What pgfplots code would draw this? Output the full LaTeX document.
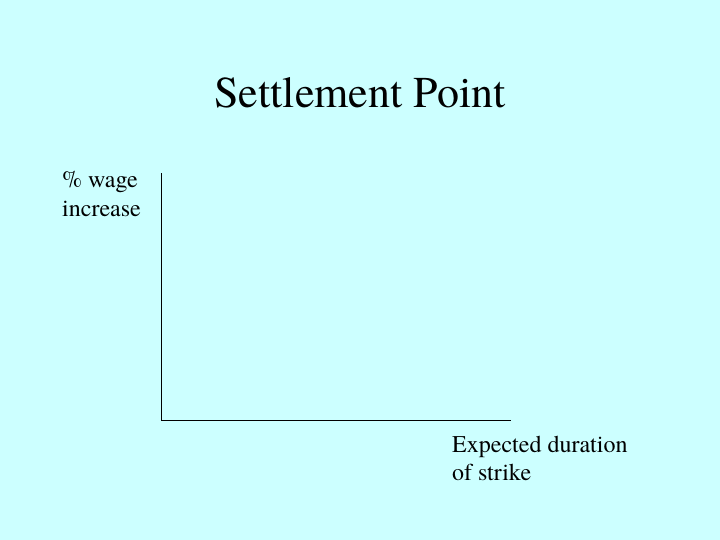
\documentclass[border=0pt]{standalone}
\usepackage{pgfplots}
\pgfplotsset{compat=1.18}
\usepackage{fontspec}
\setmainfont{TeX Gyre Termes}
\definecolor{slidebg}{RGB}{204,255,255}

\begin{document}
\begin{tikzpicture}[x=1bp, y=1bp]
    % slide background, 720 x 540
    \fill[slidebg] (0,0) rectangle (720,540);
    \begin{axis}[
        at={(161bp,120bp)}, anchor=origin,
        scale only axis,
        width=350bp, height=247bp,
        xmin=0, xmax=1, ymin=0, ymax=1,
        axis lines=left,
        axis line style={-, black, line width=0.8bp},
        xtick=\empty, ytick=\empty,
        clip=false,
    ]
    \end{axis}
    \node[anchor=base, inner sep=0pt, font=\fontsize{44bp}{52bp}\selectfont] at (360,432) {Settlement Point};
    \node[anchor=base west, inner sep=0pt, font=\fontsize{24bp}{29bp}\selectfont] at (62,352) {\% wage};
    \node[anchor=base west, inner sep=0pt, font=\fontsize{24bp}{29bp}\selectfont] at (62,323) {increase};
    \node[anchor=base west, inner sep=0pt, font=\fontsize{24bp}{29bp}\selectfont] at (452,87) {Expected duration};
    \node[anchor=base west, inner sep=0pt, font=\fontsize{24bp}{29bp}\selectfont] at (452,59) {of strike};
\end{tikzpicture}
\end{document}
